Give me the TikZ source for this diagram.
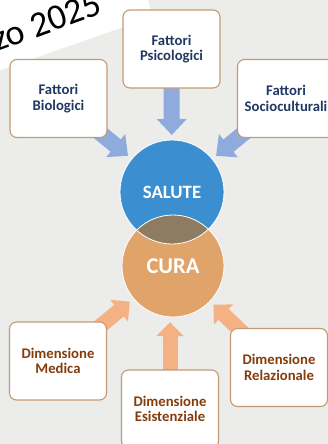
\documentclass[tikz,border=0pt]{standalone}
\usepackage{fontspec}
\setmainfont{Carlito}
\usetikzlibrary{arrows.meta}
\definecolor{bgc}{HTML}{ECECEA}
\definecolor{boxc}{HTML}{C49A74}
\definecolor{topc}{HTML}{1F3864}
\definecolor{botc}{HTML}{843C0C}
\definecolor{bluea}{HTML}{8FAADC}
\definecolor{orangea}{HTML}{F4B183}
\definecolor{salc}{HTML}{3B8ED0}
\definecolor{curc}{HTML}{E0A46B}
\definecolor{ovc}{HTML}{8D7C62}
\pgfdeclarelayer{back}
\pgfdeclarelayer{mid}
\pgfsetlayers{back,mid,main}
\tikzset{
  box/.style={draw=boxc, line width=1.1pt, fill=white, rounded corners=7pt,
    minimum width=97pt, minimum height=78pt, align=center, inner sep=0pt,
    font=\bfseries\fontsize{14.7}{15.5}\selectfont},
  topbox/.style={box, text=topc},
  botbox/.style={box, text=botc},
  barrow/.style={draw=bluea, line width=16pt, -{Triangle[width=29pt,length=16pt]}},
  oarrow/.style={draw=orangea, line width=15pt, -{Triangle[width=27pt,length=14pt]}},
  ring/.style={circle, inner sep=0pt, text=white, font=\bfseries}
}
\begin{document}
\begin{tikzpicture}[x=1pt,y=-1pt]
\useasboundingbox (0,0) rectangle (328,444);
\clip (0,0) rectangle (328,444);
\begin{pgfonlayer}{back}
  \fill[bgc] (0,0) rectangle (328,444);
  \fill[white] (-5,-5) -- (147,-5) -- (152,17) -- (-5,72) -- cycle;
  \node[anchor=base west, rotate=20, inner sep=0pt, font=\fontsize{36}{36}\selectfont] (date) at (-3,52) {zo 2025};
\end{pgfonlayer}

\node[topbox] (psi) at (171.5,49) {Fattori\\Psicologici};
\node[topbox] (bio) at (58.5,98.5) {Fattori\\Biologici};
\node[topbox] (soc) at (286,98.5) {Fattori\\Socioculturali};
\node[botbox] (med) at (58,361) {Dimensione\\Medica};
\node[botbox] (esi) at (170,409) {Dimensione\\Esistenziale};
\node[botbox] (rel) at (279,367.5) {Dimensione\\Relazionale};

\node[ring, fill=salc, minimum size=104pt, font=\bfseries\fontsize{18.8}{20}\selectfont] (sal) at (172,192) {SALUTE};
\node[ring, fill=curc, minimum size=102pt, font=\bfseries\fontsize{22.5}{24}\selectfont] (cura) at (173,266) {CURA};
\begin{scope}
  \clip (sal.center) circle[radius=52pt];
  \fill[ovc] (cura.center) circle[radius=51pt];
\end{scope}
\draw[white, line width=0.8pt] (sal.center) circle[radius=52pt];
\draw[white, line width=0.8pt] (cura.center) circle[radius=51pt];

\begin{pgfonlayer}{mid}
  \draw[barrow, shorten >=57pt] (psi.center) -- (sal.center);
  \draw[barrow, shorten >=57pt] (bio.center) -- (sal.center);
  \draw[barrow, shorten >=57pt] (soc.center) -- (sal.center);
  \draw[oarrow, shorten >=56pt] (med.center) -- (cura.center);
  \draw[oarrow, shorten >=5pt] (esi.center) -- (esi.center |- cura.south);
  \draw[oarrow, shorten >=56pt] (rel.center) -- (cura.center);
\end{pgfonlayer}
\end{tikzpicture}
\end{document}
